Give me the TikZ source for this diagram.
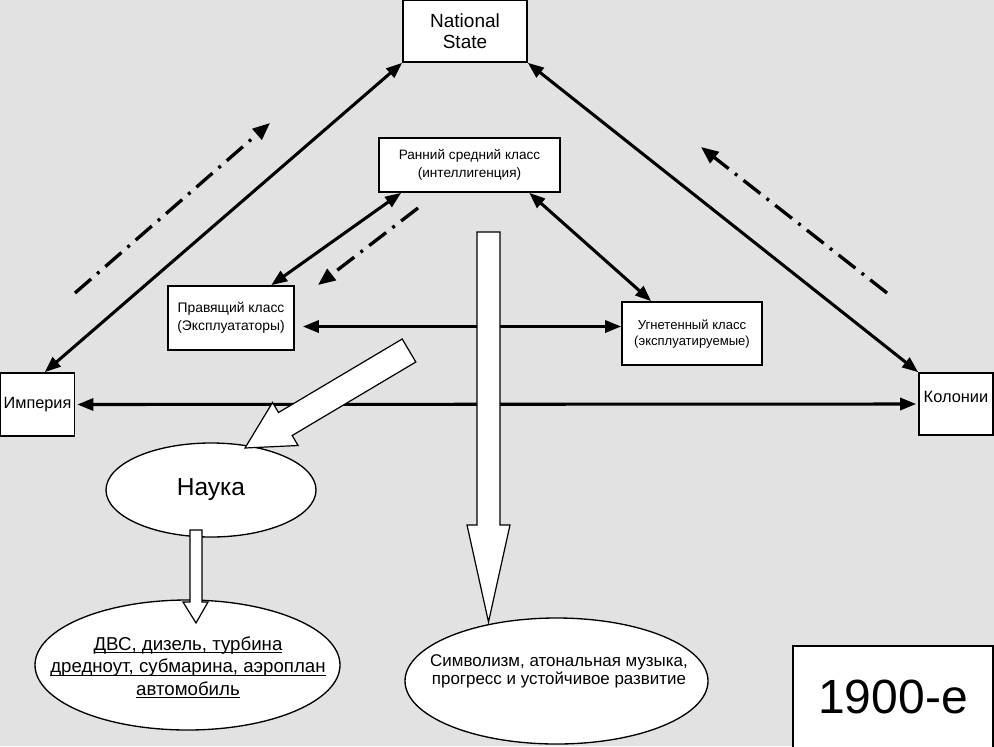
\documentclass[tikz,border=0pt]{standalone}
\usepackage{fontspec}
\setmainfont{Liberation Sans}
\usetikzlibrary{arrows.meta,shapes.geometric,calc}
\definecolor{bgc}{RGB}{226,226,226}
\tikzset{
  boxnode/.style={draw=black, fill=white, line width=1.2pt, rectangle, inner sep=0pt, align=center},
  ellnode/.style={draw=black, fill=white, line width=1pt, ellipse, inner sep=0pt},
  txt/.style={inner sep=0pt, align=center},
  con/.style={draw=black, line width=2.3pt, {Triangle[length=12pt,width=9pt]}-{Triangle[length=12pt,width=9pt]}},
  dd/.style={draw=black, line width=2.5pt, dash pattern=on 16pt off 6pt on 2.2pt off 6pt, -{Triangle[length=13pt,width=10.5pt]}},
  bigarrow/.style={draw=black, fill=white, line width=0.9pt, line join=miter},
}
\newcommand{\fsz}[2]{\fontsize{#1}{#2}\selectfont}
\newcommand{\myul}[1]{\setbox0\hbox{#1}\leavevmode\rlap{\rule[-2.2pt]{\wd0}{0.9pt}}\box0}
\begin{document}
\begin{tikzpicture}[x=0.75pt,y=-0.75pt]
\useasboundingbox (0,0) rectangle (994,746);
\fill[bgc] (0,0) rectangle (994,746);

% boxes
\node[boxnode, minimum width=93pt, minimum height=46.5pt, font=\fsz{14.25pt}{15.75pt}] (ns) at (465,31) {National\\State};
\node[boxnode, minimum width=135.75pt, minimum height=40.5pt, font=\fsz{10.2pt}{13.5pt}] (mid) at (469.5,165) {Ранний средний класс\\(интеллигенция)};
\node[boxnode, minimum width=94.5pt, minimum height=48pt, font=\fsz{10.4pt}{13.5pt}] (rule) at (231,318) {Правящий класс\\(Эксплуататоры)};
\node[boxnode, minimum width=105pt, minimum height=47.25pt, font=\fsz{9.8pt}{12pt}] (opp) at (692,333.5) {Угнетенный класс\\(эксплуатируемые)};
\node[boxnode, minimum width=55.5pt, minimum height=47.25pt, font=\fsz{12.2pt}{14pt}] (emp) at (37.5,404.5) {Империя};
\node[boxnode, minimum width=55.5pt, minimum height=46.5pt] (col) at (956,404) {};
\node[txt, font=\fsz{12.3pt}{14pt}] (coltxt) at (956,397) {Колонии};
\node[boxnode, minimum width=150pt, minimum height=76.5pt, font=\fsz{36pt}{40pt}] (year) at (893,697) {1900-е};

% ellipses
\node[ellnode, minimum width=157.5pt, minimum height=70.5pt, font=\fsz{18.4pt}{20pt}] (nauka) at (211,490) {Наука};
\node[ellnode, minimum width=228.75pt, minimum height=97.5pt] (dvs) at (187.5,665) {};
\node[txt, font=\fsz{14pt}{16.9pt}] (dvstxt) at (188,667.5) {\myul{ДВС, дизель, турбина}\\\myul{дредноут, субмарина, аэроплан}\\\myul{автомобиль}};
\node[ellnode, minimum width=227.25pt, minimum height=94.5pt] (sym) at (556.5,681) {};
\node[txt, font=\fsz{12.7pt}{13.5pt}] (symtxt) at (559,671) {Символизм, атональная музыка,\\прогресс и устойчивое развитие};

% solid connectors
\draw[con] ($(emp.north west)+(45,0)$) -- (ns.south west);
\draw[con] (ns.south east) -- (col.north west);
\draw[con] ($(mid.south west)+(23,0)$) -- ($(rule.north west)+(104,0)$);
\draw[con] ($(mid.south west)+(151,0)$) -- ($(opp.north west)+(30,0)$);
\draw[con] ($(rule.east)+(8,8.5)$) -- ($(opp.west)+(0,-7)$);
\draw[con] ($(emp.east)+(2,0)$) -- ($(col.west)+(-2,0)$);

% dash-dot arrows
\coordinate (d1s) at (75,293);  \coordinate (d1e) at (270,123);
\coordinate (d2s) at (418,208); \coordinate (d2e) at (318,285);
\coordinate (d3s) at (887,293); \coordinate (d3e) at (701,147);
\draw[dd] (d1s) -- (d1e);
\draw[dd] (d2s) -- (d2e);
\draw[dd] (d3s) -- (d3e);

% big white arrows
\draw[bigarrow] (477,232) -- (500,232) -- (500,525) -- (510,525) -- (488.5,622) -- (467,525) -- (477,525) -- cycle;
\draw[bigarrow] (402.2,339) -- (415.8,362) -- (292.2,435.5) -- (298.1,445.5) -- (245,448) -- (272.5,402.5) -- (278.5,412.5) -- cycle;
\draw[bigarrow] (190,530) -- (202,530) -- (202,602) -- (208,602) -- (196,623) -- (183,602) -- (190,602) -- cycle;
\end{tikzpicture}
\end{document}
